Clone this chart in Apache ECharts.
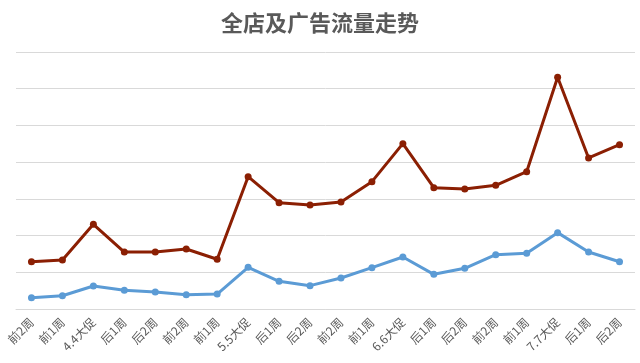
<!DOCTYPE html>
<html><head><meta charset="utf-8">
<script src="https://cdn.jsdelivr.net/npm/echarts@6/dist/echarts.min.js"></script>
<style>html,body{margin:0;padding:0;background:#fff}#c{width:640px;height:363px}</style>
</head><body><div id="c"></div>
<script>
var categories = ['前2周','前1周','4.4大促','后1周','后2周','前2周','前1周','5.5大促','后1周','后2周','前2周','前1周','6.6大促','后1周','后2周','前2周','前1周','7.7大促','后1周','后2周'];
var storeTraffic = [644,667,1154,776,776,817,677,1802,1448,1417,1457,1734,2252,1652,1635,1685,1870,3156,2057,2238];
var adTraffic = [154,181,313,254,232,195,204,568,377,318,422,563,708,472,554,740,758,1040,776,644];
var chart = echarts.init(document.getElementById('c'));
chart.setOption({
  animation:false,
  title:{text:'全店及广告流量走势',left:'center',top:7,textStyle:{fontFamily:'Noto Sans CJK SC',fontSize:22,fontWeight:'bold',color:'#595959'}},
  grid:{left:16,right:5,top:52,bottom:54},
  xAxis:{type:'category',data:categories,boundaryGap:true,
    axisLine:{lineStyle:{color:'#d9d9d9',width:1}},axisTick:{show:false},
    axisLabel:{rotate:45,interval:0,color:'#595959',fontSize:12,fontFamily:'Noto Sans CJK SC',margin:11}},
  yAxis:{type:'value',min:0,max:3500,interval:500,axisLabel:{show:false},axisLine:{show:false},axisTick:{show:false},
    splitLine:{lineStyle:{color:'#d9d9d9',width:1}}},
  series:[
    {name:'全店流量',type:'line',data:storeTraffic,symbol:'circle',symbolSize:7,lineStyle:{width:3,color:'#8B1F03'},itemStyle:{color:'#8B1F03'}},
    {name:'广告流量',type:'line',data:adTraffic,symbol:'circle',symbolSize:7,lineStyle:{width:3,color:'#5B9BD5'},itemStyle:{color:'#5B9BD5'}}
  ]
});
</script></body></html>
